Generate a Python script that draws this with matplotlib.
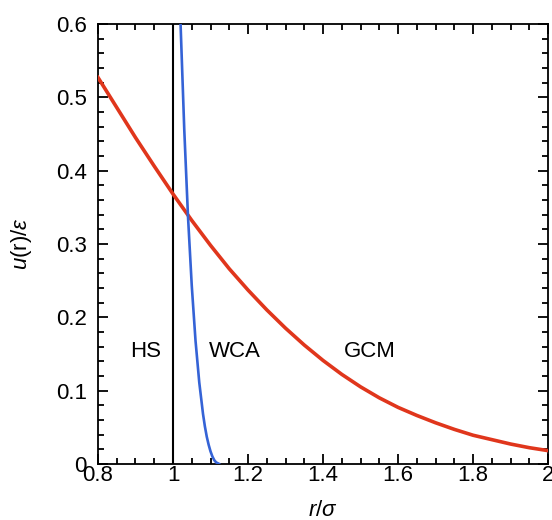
import matplotlib
matplotlib.use("Agg")
import matplotlib.pyplot as plt
from matplotlib.ticker import MultipleLocator

plt.rcParams["font.family"] = ["Liberation Sans", "DejaVu Sans"]
plt.rcParams["mathtext.fontset"] = "custom"
plt.rcParams["mathtext.it"] = "Liberation Sans:italic"
plt.rcParams["mathtext.rm"] = "Liberation Sans"

# GCM curve
r_gcm = [0.80, 0.85, 0.90, 0.95, 1.00, 1.05, 1.10, 1.15, 1.20, 1.25, 1.30, 1.35, 1.40,
         1.45, 1.50, 1.55, 1.60, 1.65, 1.70, 1.75, 1.80, 1.85, 1.90, 1.95, 2.00]
u_gcm = [0.527, 0.486, 0.445, 0.406, 0.368, 0.332, 0.298, 0.266, 0.237, 0.210, 0.185, 0.162, 0.141,
         0.122, 0.105, 0.090, 0.077, 0.066, 0.056, 0.047, 0.039, 0.033, 0.027, 0.022, 0.018]

# WCA curve
r_wca = [1.010, 1.015, 1.020, 1.030, 1.040, 1.050, 1.060, 1.070, 1.080, 1.085, 1.090,
         1.095, 1.100, 1.105, 1.110, 1.115, 1.1225]
u_wca = [0.782, 0.687, 0.602, 0.456, 0.337, 0.243, 0.168, 0.111, 0.068, 0.051, 0.037,
         0.026, 0.017, 0.010, 0.005, 0.002, 0.0]

# hard sphere wall
r_hs = 1.0

labels = ["HS", "WCA", "GCM"]
label_x = [0.926, 1.166, 1.525]
label_y = [0.153, 0.153, 0.153]

fig = plt.figure(figsize=(5.52, 5.2), dpi=100)
ax = fig.add_axes([0.1775, 0.108, 0.8155, 0.846])

ax.plot(r_gcm, u_gcm, color="#e0361c", lw=2.6, zorder=3)
ax.plot(r_wca, u_wca, color="#3563d6", lw=1.9, zorder=4)
ax.axvline(r_hs, color="black", lw=1.5, zorder=2)

for t, x, y in zip(labels, label_x, label_y):
    ax.text(x, y, t, fontsize=16, ha="center", va="center")

ax.set_xlim(0.8, 2.0)
ax.set_ylim(0, 0.6)
ax.xaxis.set_minor_locator(MultipleLocator(0.05))
ax.yaxis.set_minor_locator(MultipleLocator(0.02))
ax.set_xticks([0.8, 1.0, 1.2, 1.4, 1.6, 1.8, 2.0])
ax.set_xticklabels(["0.8", "1", "1.2", "1.4", "1.6", "1.8", "2"])
ax.set_yticks([0, 0.1, 0.2, 0.3, 0.4, 0.5, 0.6])
ax.set_yticklabels(["0", "0.1", "0.2", "0.3", "0.4", "0.5", "0.6"])
ax.tick_params(which="both", direction="in", top=True, right=True, width=1.3, labelsize=16)
ax.tick_params(axis="x", which="both", pad=1)
ax.tick_params(axis="y", which="both", pad=8)
ax.tick_params(which="major", length=7)
ax.tick_params(which="minor", length=4)
for s in ax.spines.values():
    s.set_linewidth(1.3)

ax.set_ylabel(r"$u$(r)/$\varepsilon$", fontsize=16, labelpad=16)
ax.set_xlabel(r"$r/\sigma$", fontsize=16, labelpad=10)

fig.savefig("out.png", dpi=100)
